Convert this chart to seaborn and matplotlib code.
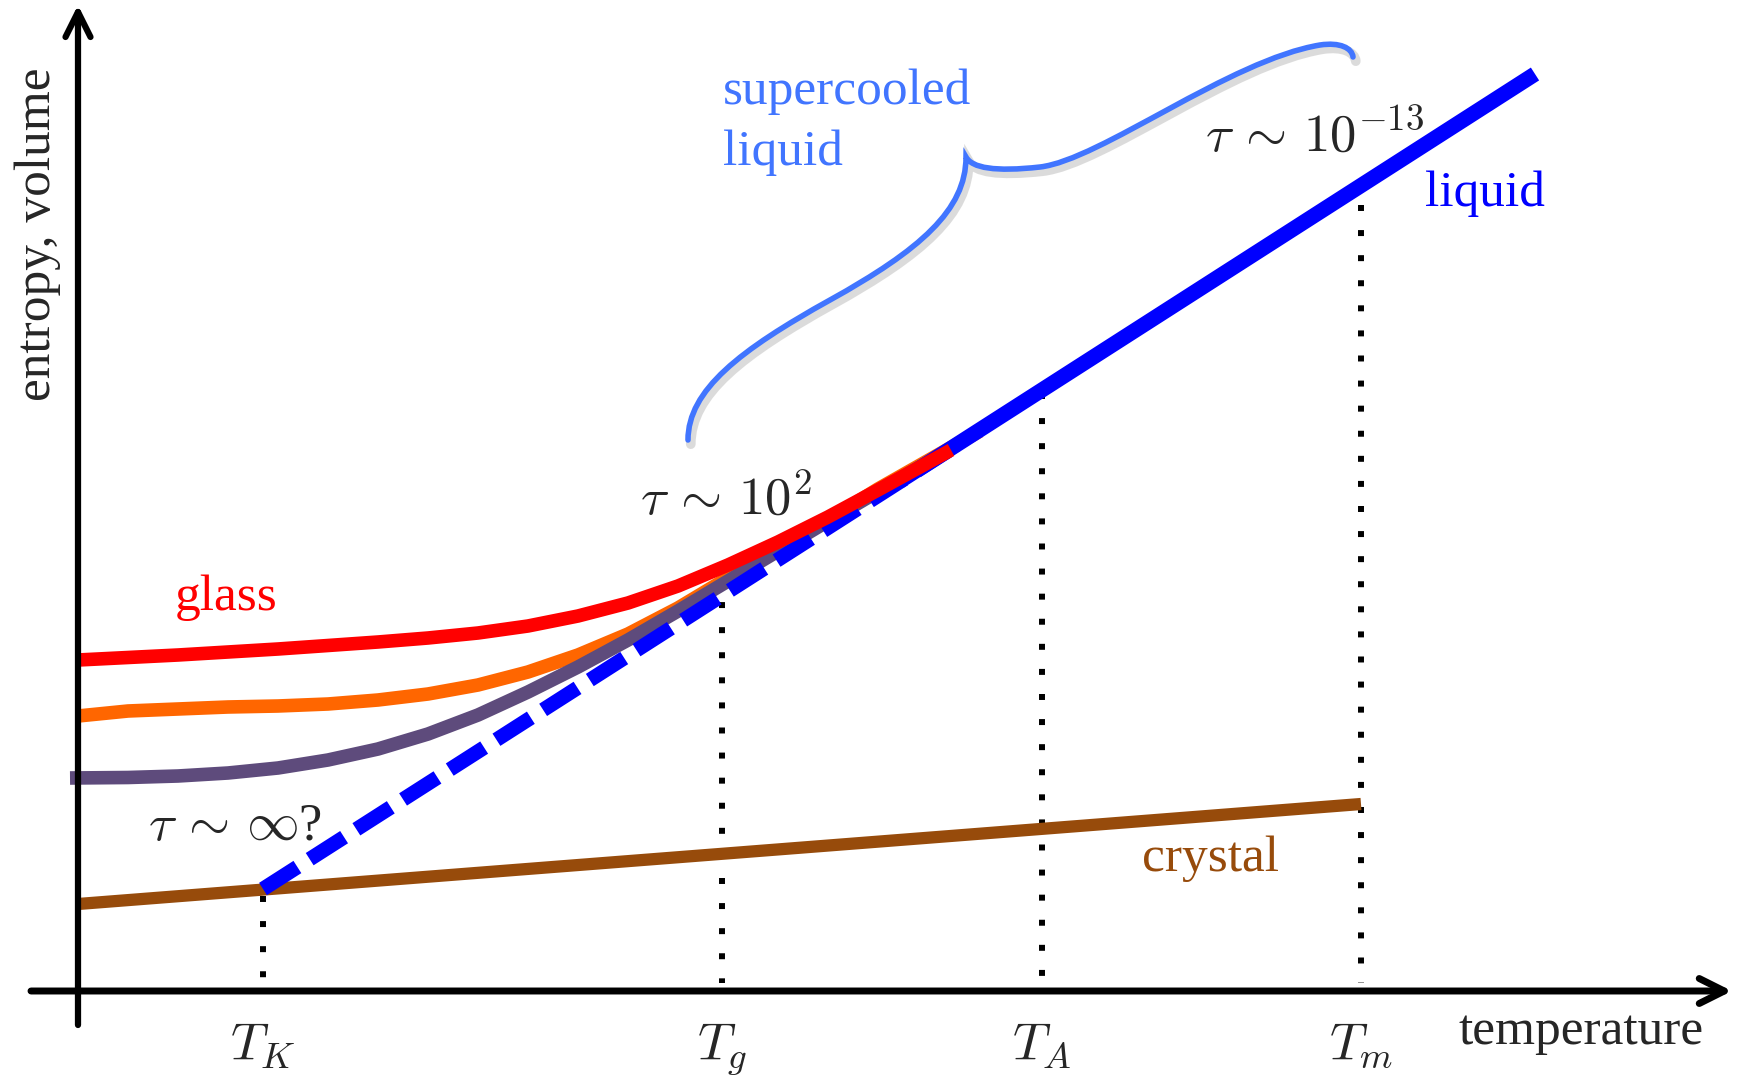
import numpy as np
import pandas as pd
import matplotlib
matplotlib.use("Agg")
import matplotlib.pyplot as plt
import matplotlib.patheffects as pe
from matplotlib.path import Path
from matplotlib.patches import PathPatch
import seaborn as sns

# ---------------------------------------------------------------------------
# Characteristic temperatures (arbitrary units) and their axis labels
# ---------------------------------------------------------------------------
temp_marks = [1.85, 6.44, 9.64, 12.83]
temp_labels = [r"$T_K$", r"$T_g$", r"$T_A$", r"$T_m$"]
# upper end of the dotted guide at each characteristic temperature
guide_tops = [0.95, 4.14, 5.98, 7.86]

# Equilibrium liquid (solid) and its extrapolation below T_g (dashed)
liquid_T = [8.22, 14.57]
liquid_S = [5.10, 9.17]
extrap_T = [1.85, 8.70]
extrap_S = [1.02, 5.40]

# Crystal branch
crystal_T = [0.00, 12.83]
crystal_S = [0.87, 1.87]

# Glass branches for three cooling rates (fast -> slow)
glass_fast_T = [0.0, 1.0, 2.0, 3.0, 3.5, 4.0, 4.5, 5.0, 5.5, 6.0, 6.5, 7.0, 7.5, 8.0, 8.73]
glass_fast_S = [3.31, 3.36, 3.42, 3.49, 3.53, 3.58, 3.65, 3.75, 3.88, 4.05, 4.26, 4.49, 4.74, 5.01, 5.41]

glass_mid_T = [0.0, 0.5, 1.0, 1.5, 2.0, 2.5, 3.0, 3.5, 4.0, 4.5, 5.0, 5.5, 6.0, 6.5, 7.0, 7.5, 8.0, 9.02]
glass_mid_S = [2.75, 2.80, 2.82, 2.84, 2.85, 2.87, 2.91, 2.97, 3.06, 3.19, 3.36, 3.57, 3.83, 4.13, 4.42, 4.71, 5.02, 5.60]

glass_slow_T = [-0.08, 0.5, 1.0, 1.5, 2.0, 2.5, 3.0, 3.5, 4.0, 4.5, 5.0, 5.5, 6.0, 6.5, 7.0, 7.5, 8.79]
glass_slow_S = [2.13, 2.135, 2.15, 2.18, 2.23, 2.31, 2.42, 2.57, 2.76, 2.99, 3.24, 3.51, 3.80, 4.10, 4.40, 4.70, 5.46]

# Colours
C_LIQUID = "#0000FF"
C_BRACE = "#4175FF"
C_FAST = "#FF0000"
C_MID = "#FF6600"
C_SLOW = "#5E4B7C"
C_CRYSTAL = "#974B0B"

# ---------------------------------------------------------------------------
sns.set_theme(style="white")
plt.rcParams["font.family"] = ["Liberation Serif", "DejaVu Serif"]
plt.rcParams["mathtext.fontset"] = "cm"

fig = plt.figure(figsize=(17.38, 10.76), dpi=100)
ax = fig.add_axes([0, 0, 1, 1])
ax.set_xlim(-0.78, 16.60)
ax.set_ylim(-0.85, 9.91)
ax.axis("off")

FS = 37
FS_MATH = 38

# dotted guides at characteristic temperatures
for t, top in zip(temp_marks, guide_tops):
    ax.plot([t, t], [top, 0.08], color="black", lw=4.3,
            linestyle=(0, (1, 3.2)), dash_capstyle="butt", zorder=1)

def curve(T, S, color, lw, z, **kw):
    df = pd.DataFrame({"T": T, "S": S})
    sns.lineplot(data=df, x="T", y="S", ax=ax, color=color, linewidth=lw,
                 sort=False, estimator=None, zorder=z,
                 solid_capstyle="butt", solid_joinstyle="round", **kw)

curve(crystal_T, crystal_S, C_CRYSTAL, 8.8, 2)
curve(glass_mid_T, glass_mid_S, C_MID, 9.8, 3)
curve(glass_slow_T, glass_slow_S, C_SLOW, 9.8, 3.2)
curve(extrap_T, extrap_S, C_LIQUID, 10.5, 4,
      linestyle=(0, (2.8, 1.0)), dash_capstyle="butt")
curve(liquid_T, liquid_S, C_LIQUID, 11.0, 4)
curve(glass_fast_T, glass_fast_S, C_FAST, 9.8, 5)

# coordinate axes drawn as arrows
arrow_style = "->,head_length=1.8,head_width=0.9"
ax.annotate("", xy=(16.54, 0), xytext=(-0.47, 0),
            arrowprops=dict(arrowstyle=arrow_style, lw=5.0, color="black",
                            shrinkA=0, shrinkB=0, mutation_scale=10), zorder=6)
ax.annotate("", xy=(0, 9.86), xytext=(0, -0.34),
            arrowprops=dict(arrowstyle=arrow_style, lw=4.5, color="black",
                            shrinkA=0, shrinkB=0, mutation_scale=10), zorder=6)

# curly brace over the supercooled regime
brace_pts = [(6.10, 5.51), (6.10, 6.01), (6.62, 6.41), (7.52, 6.91),
             (8.42, 7.41), (8.88, 7.81), (8.88, 8.34),
             (8.94, 8.23), (9.17, 8.19), (9.62, 8.24),
             (10.22, 8.31), (11.52, 9.31), (12.42, 9.46),
             (12.62, 9.49), (12.74, 9.43), (12.75, 9.34)]
codes = [Path.MOVETO] + [Path.CURVE4] * (len(brace_pts) - 1)
brace = PathPatch(Path(brace_pts, codes), fill=False, edgecolor=C_BRACE,
                  lw=4.0, capstyle="round", zorder=3)
brace.set_path_effects([pe.SimpleLineShadow(offset=(2, -3), shadow_color="0.45",
                                            alpha=0.25, linewidth=7),
                        pe.Normal()])
ax.add_patch(brace)

# labels
ax.text(0.97, 3.81, "glass", color=C_FAST, fontsize=FS, ha="left", va="baseline")
ax.text(10.64, 1.20, "crystal", color=C_CRYSTAL, fontsize=FS, ha="left", va="baseline")
ax.text(13.47, 7.85, "liquid", color=C_LIQUID, fontsize=FS, ha="left", va="baseline")
ax.text(6.45, 8.87, "supercooled", color=C_BRACE, fontsize=FS, ha="left", va="baseline")
ax.text(6.45, 8.26, "liquid", color=C_BRACE, fontsize=FS, ha="left", va="baseline")

ax.text(11.27, 8.40, r"$\tau\,\sim\,10^{-13}$", fontsize=FS_MATH, ha="left", va="baseline")
ax.text(5.62, 4.76, r"$\tau\,\sim\,10^{2}$", fontsize=FS_MATH, ha="left", va="baseline")
ax.text(0.70, 1.51, r"$\tau\,\sim\,\infty$?", fontsize=FS_MATH, ha="left", va="baseline")

for t, lab in zip(temp_marks, temp_labels):
    ax.text(t, -0.69, lab, fontsize=FS_MATH, ha="center", va="baseline")

ax.text(13.81, -0.53, "temperature", fontsize=FS, ha="left", va="baseline")
ax.text(-0.40, 7.57, "entropy, volume", fontsize=FS, rotation=90,
        ha="center", va="center")

fig.savefig("out.png", dpi=100, facecolor="white")
